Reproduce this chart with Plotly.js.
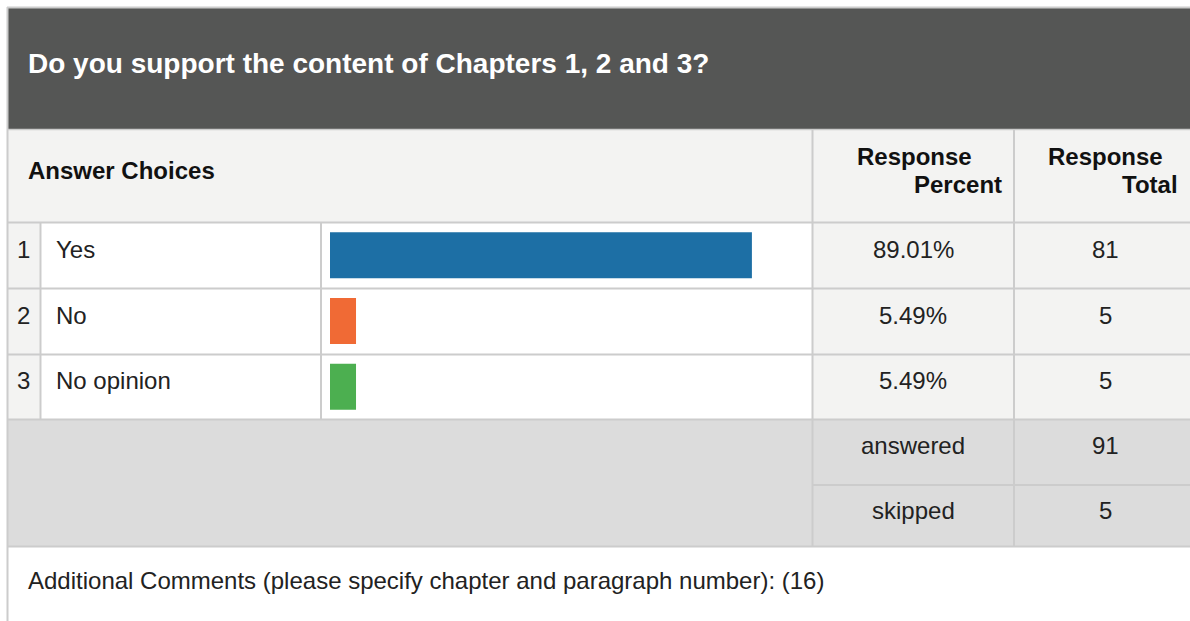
<!DOCTYPE html>
<html>
<head>
<meta charset="utf-8">
<script src="https://cdn.plot.ly/plotly-3.0.1.min.js"></script>
<style>html,body{margin:0;padding:0;background:#fff;}#chart{width:1190px;height:621px;}</style>
</head>
<body>
<div id="chart"></div>
<script>
// ---- data ----
const questionTitle = "Do you support the content of Chapters 1, 2 and 3?";
const choiceNumbers = [1, 2, 3];
const choices = ["Yes", "No", "No opinion"];
const responsePercent = [89.01, 5.49, 5.49];
const responseTotal = [81, 5, 5];
const barColors = ["#1d6fa5", "#f06a35", "#4caf50"];
const answeredCount = 91;
const skippedCount = 5;
const commentsLabel = "Additional Comments (please specify chapter and paragraph number):";
const commentsCount = 16;

// ---- layout helpers (pixel -> paper) ----
const W = 1190, H = 621;
const X = px => px / W;
const Y = py => 1 - py / H;
const FONT = "Liberation Sans, Arial, sans-serif";
const LINE = "#cccccc";
const BODY = 24, HEAD = 24, TITLE = 28;

function rect(x0, y0, x1, y1, fill) {
  return {type: "rect", xref: "paper", yref: "paper", x0: X(x0), x1: X(x1), y0: Y(y1), y1: Y(y0),
          fillcolor: fill, line: {width: 0}, layer: "below"};
}
function line(x0, y0, x1, y1, w, c) {
  return {type: "line", xref: "paper", yref: "paper", x0: X(x0), x1: X(x1), y0: Y(y0), y1: Y(y1),
          line: {color: c || LINE, width: w || 2}, layer: "below"};
}
function txt(text, x, y, anchor, size, color) {
  return {text: text, xref: "paper", yref: "paper", x: X(x), y: Y(y), xanchor: anchor || "left",
          yanchor: "middle", showarrow: false, font: {family: FONT, size: size || BODY, color: color || "#222"}};
}

// row geometry
const rowTop = 222.5, rowH = (419.5 - 222.5) / 3;
const textOffset = -6; // text sits above row middle

const shapes = [
  rect(8, 8, W, 129, "#555655"),
  rect(8, 130, W, 222, "#f3f3f2"),
  rect(8, 223, 40, 419, "#f3f3f2"),
  rect(41, 223, 812, 419, "#ffffff"),
  rect(813, 223, W, 419, "#f3f3f2"),
  rect(8, 420, W, 546, "#dcdcdc"),
  // borders
  line(7.5, 7, 7.5, H),
  line(7, 7.5, W, 7.5),
  line(8, 129.5, W, 129.5, 1.5),
  line(8, 222.5, W, 222.5),
  line(8, 288.5, W, 288.5),
  line(8, 354.5, W, 354.5),
  line(8, 419.5, W, 419.5),
  line(813, 485, W, 485),
  line(7, 546.5, W, 546.5),
  line(40.5, 222, 40.5, 420),
  line(321, 222, 321, 420),
  line(812.5, 130, 812.5, 547),
  line(1014, 130, 1014, 547)
];

const annotations = [
  txt("<b>" + questionTitle + "</b>", 26, 63, "left", TITLE, "#ffffff"),
  txt("<b>Answer Choices</b>", 26, 170, "left", HEAD, "#111"),
  txt("<b>Response</b>", 855, 156, "left", HEAD, "#111"),
  txt("<b>Percent</b>", 1004, 184, "right", HEAD, "#111"),
  txt("<b>Response</b>", 1046, 156, "left", HEAD, "#111"),
  txt("<b>Total</b>", 1180, 184, "right", HEAD, "#111"),
  txt("answered", 913, 445, "center"),
  txt(String(answeredCount), 1105, 445, "center"),
  txt("skipped", 913, 510, "center"),
  txt(String(skippedCount), 1105, 510, "center"),
  txt(commentsLabel + " (" + commentsCount + ")", 26, 580, "left")
];
choices.forEach((c, i) => {
  const cy = rowTop + rowH * (i + 0.5) + textOffset;
  annotations.push(txt(String(choiceNumbers[i]), 23, cy, "center"));
  annotations.push(txt(c, 54, cy, "left"));
  annotations.push(txt(responsePercent[i].toFixed(2) + "%", 913, cy, "center"));
  annotations.push(txt(String(responseTotal[i]), 1105, cy, "center"));
});

const trace = {
  type: "bar", orientation: "h",
  x: responsePercent, y: choices,
  marker: {color: barColors, line: {width: 0}},
  hoverinfo: "skip", showlegend: false
};

const layout = {
  width: W, height: H,
  margin: {l: 0, r: 0, t: 0, b: 0, pad: 0},
  paper_bgcolor: "#ffffff", plot_bgcolor: "rgba(0,0,0,0)",
  bargap: 0.30,
  xaxis: {domain: [X(330), X(804)], range: [0, 100], visible: false, fixedrange: true},
  yaxis: {domain: [Y(419.5), Y(222.5)], type: "category", autorange: "reversed", visible: false, fixedrange: true},
  shapes: shapes,
  annotations: annotations,
  showlegend: false
};

Plotly.newPlot("chart", [trace], layout, {displayModeBar: false, staticPlot: true});
</script>
</body>
</html>
